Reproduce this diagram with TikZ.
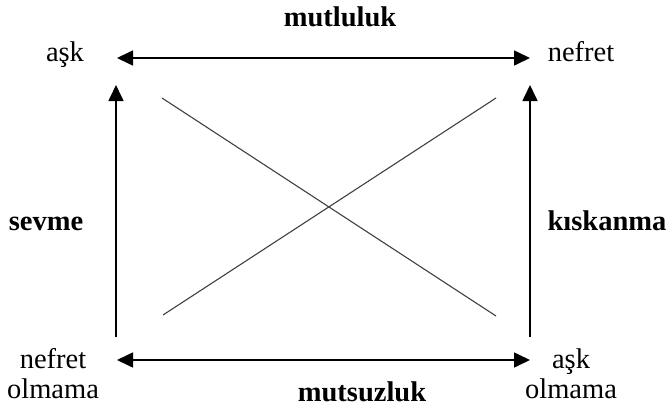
\documentclass[tikz,border=0pt]{standalone}
\usepackage{fontspec}
\setmainfont{Liberation Serif}
\usetikzlibrary{arrows.meta}

\begin{document}
\begin{tikzpicture}[
    x=1pt, y=-1pt,
    term/.style={font=\fontsize{28.5}{30}\selectfont, anchor=base, align=center, inner sep=0pt},
    rel/.style={font=\fontsize{28.5}{30}\selectfont\bfseries, anchor=base, inner sep=0pt},
    arr/.style={{Triangle[length=16pt,width=15pt]}-{Triangle[length=16pt,width=15pt]}, line width=1.6pt},
    uparr/.style={-{Triangle[length=16pt,width=15pt]}, line width=1.6pt},
    diag/.style={draw=black!75, line width=1.1pt}
]
\useasboundingbox (0,0) rectangle (668,410);

% Corner terms
\node[term] (ask) at (65, 61) {aşk};
\node[term] (nefret) at (581, 61) {nefret};
\node[term] (nefretolm) at (53, 398) {nefret\\olmama};
\node[term] (askolm) at (571, 398) {aşk\\olmama};

% Relations
\node[rel] (mutluluk) at (340, 26) {mutluluk};
\node[rel] (mutsuzluk) at (362, 401) {mutsuzluk};
\node[rel] (sevme) at (46, 230) {sevme};
\node[rel] (kiskanma) at (607, 230) {kıskanma};

% Arrow ends
\coordinate (tlh) at (117, 58);
\coordinate (trh) at (530, 58);
\coordinate (blh) at (117, 360);
\coordinate (brh) at (530, 360);
\coordinate (tlv) at (116, 85);
\coordinate (blv) at (116, 337);
\coordinate (trv) at (530, 85);
\coordinate (brv) at (530, 337);

% Diagonal ends
\coordinate (d1) at (162, 98);
\coordinate (d2) at (496, 316);
\coordinate (d3) at (163, 315);
\coordinate (d4) at (496, 98);

% Connections
\draw[arr] (tlh) -- (trh);
\draw[arr] (blh) -- (brh);
\draw[uparr] (blv) -- (tlv);
\draw[uparr] (brv) -- (trv);
\draw[diag] (d1) -- (d2);
\draw[diag] (d3) -- (d4);

\end{tikzpicture}
\end{document}
